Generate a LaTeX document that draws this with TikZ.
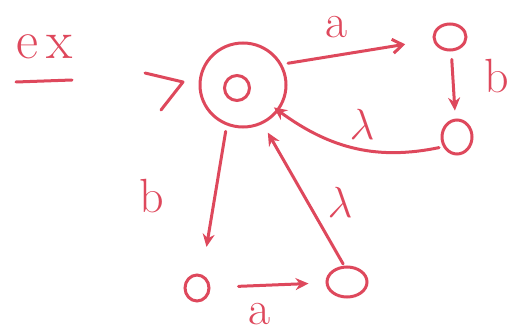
\documentclass[tikz,border=0pt]{standalone}
\usetikzlibrary{arrows.meta,shapes.geometric}
\definecolor{pen}{RGB}{222,72,92}
\begin{document}
\begin{tikzpicture}[x=1pt,y=-1pt,
  ink/.style={line width=3pt,draw=pen,line cap=round,line join=round},
  statebox/.style={draw=pen,line width=3pt,ellipse,inner sep=0pt},
  lbl/.style={text=pen,font=\fontsize{48}{50}\selectfont,inner sep=0pt},
  lam/.style={text=pen,font=\fontsize{20}{22}\selectfont,inner sep=0pt,scale=2.1},
  edge/.style={ink,-{Stealth[length=13pt,width=12pt]}},
  barb/.style={ink,-{Straight Barb[length=10pt,width=14pt]}}]
\useasboundingbox (0,0) rectangle (513,334);
% title
\node[lbl,font=\fontsize{54}{56}\selectfont] (ex) at (45,47) {e\hspace{8pt}x};
\coordinate (ul1) at (16,82);
\coordinate (ul2) at (72,80);
\draw[ink] (ul1) -- (ul2);
% states
\node[statebox,minimum width=86pt,minimum height=84pt] (s0) at (243,85) {};
\node[statebox,minimum width=25pt,minimum height=25pt] (s0in) at (237,88) {};
\node[statebox,minimum width=32pt,minimum height=26pt] (q1) at (450,37) {};
\node[statebox,minimum width=30pt,minimum height=34pt] (q2) at (457,137) {};
\node[statebox,minimum width=24pt,minimum height=26pt] (q3) at (197,288) {};
\node[statebox,minimum width=40pt,minimum height=30pt] (q4) at (347,282) {};
% start marker
\coordinate (st1) at (145,73);
\coordinate (st2) at (183,82);
\coordinate (st3) at (161,110);
\draw[ink] (st1) -- (st2) -- (st3);
% transitions
\draw[barb,shorten <=6pt,shorten >=28pt] (s0.28) -- (q1);
\draw[edge,shorten <=8pt,shorten >=8pt] (q1.-85) -- (q2.95);
\draw[edge,shorten <=4pt,shorten >=-6pt] (q2.215) to[bend left=24] (s0.-36);
\draw[edge,shorten <=6pt,shorten >=28pt] (s0.-112) -- (q3.70);
\draw[edge,shorten <=28pt,shorten >=17pt] (q3) -- (q4);
\draw[edge,shorten <=2pt,shorten >=10pt] (q4.100) -- (s0.-63);
% labels
\node[lbl] (la1) at (337,27) {a};
\node[lbl] (lb1) at (497,76) {b};
\node[lam] (ll1) at (362,124) {$\lambda$};
\node[lbl] (lb2) at (152,196) {b};
\node[lbl] (la2) at (260,314) {a};
\node[lam] (ll2) at (340,202) {$\lambda$};
\end{tikzpicture}
\end{document}
